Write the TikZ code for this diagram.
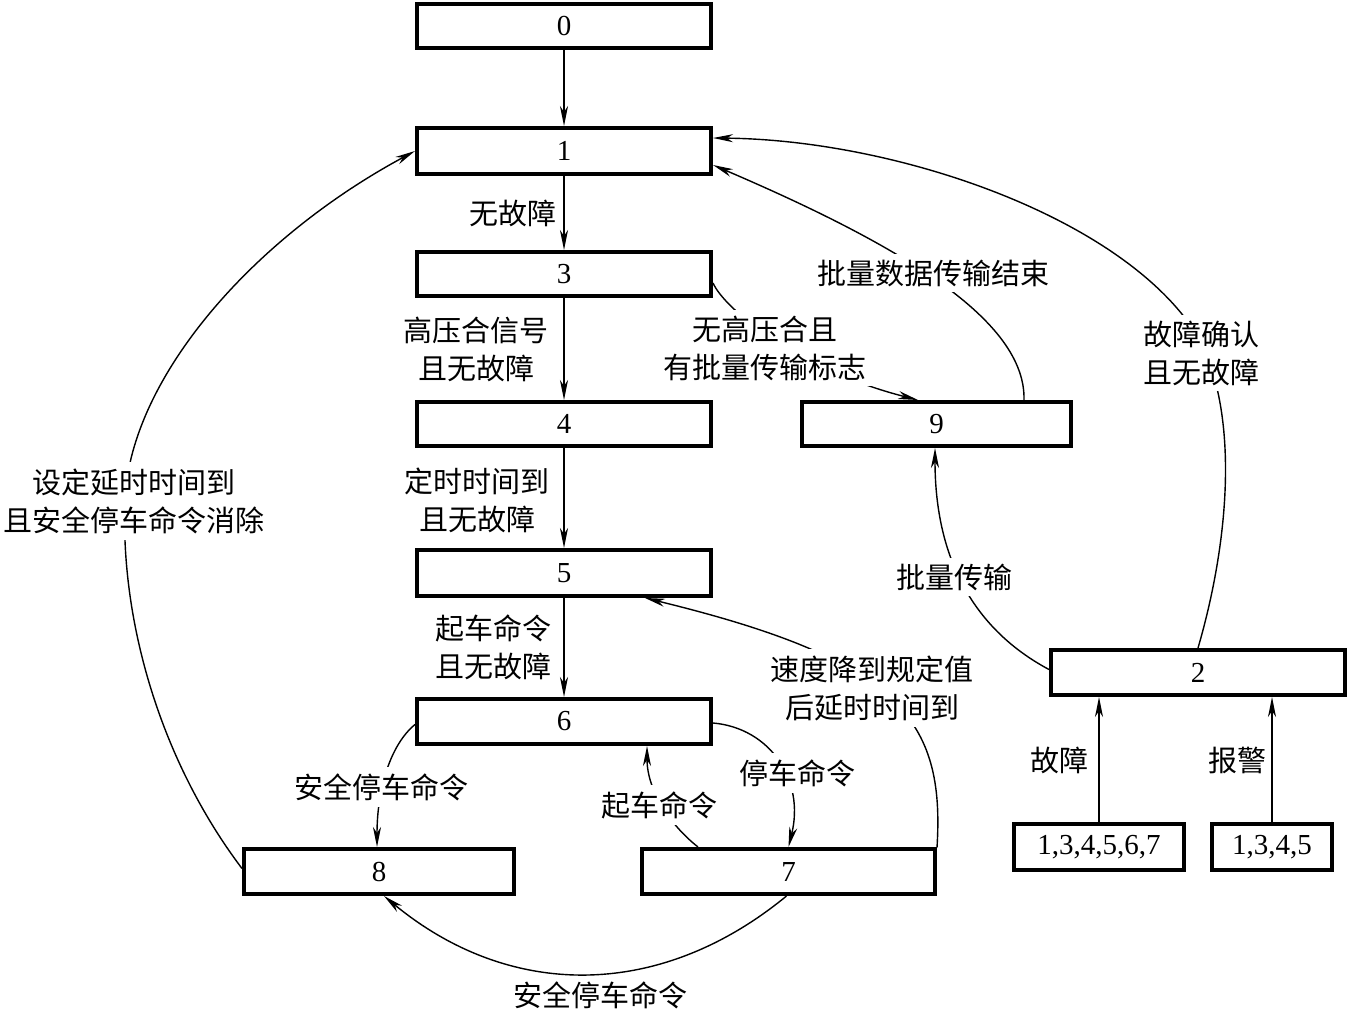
\documentclass[tikz,border=0pt]{standalone}
\usepackage{fontspec}
\setmainfont{Liberation Serif}
\newfontfamily\cjk{Noto Sans CJK SC}
\usetikzlibrary{arrows.meta,calc}
\begin{document}
\begin{tikzpicture}[x=0.5pt,y=-0.5pt,
  box/.style={draw,line width=2pt,inner sep=0pt,font=\fontsize{14.5}{17}\selectfont},
  lab/.style={font=\cjk\fontsize{14.5}{19}\selectfont,align=center,inner sep=1pt},
  gap/.style={lab,fill=white,inner sep=3pt},
  arr/.style={line width=0.7pt,-{Stealth[length=10pt,width=4pt,inset=3pt]}}]
\fill[white] (0,0) rectangle (1350,1011);
\useasboundingbox (0,0) rectangle (1350,1011);
% boxes
\node[box,minimum width=147pt,minimum height=22pt] (n0) at (564,26) {0};
\node[box,minimum width=147pt,minimum height=23pt] (n1) at (564,151) {1};
\node[box,minimum width=147pt,minimum height=22pt] (n3) at (564,274) {3};
\node[box,minimum width=147pt,minimum height=22pt] (n4) at (564,424) {4};
\node[box,minimum width=147pt,minimum height=23pt] (n5) at (564,573) {5};
\node[box,minimum width=147pt,minimum height=22.5pt] (n6) at (564,721.5) {6};
\node[box,minimum width=135pt,minimum height=22.5pt] (n8) at (379,871.5) {8};
\node[box,minimum width=146.5pt,minimum height=22.5pt] (n7) at (788.5,871.5) {7};
\node[box,minimum width=134.5pt,minimum height=22pt] (n9) at (936.5,424) {9};
\node[box,minimum width=147pt,minimum height=22.5pt] (n2) at (1198,672.5) {2};
\node[box,minimum width=85pt,minimum height=23pt] (f1) at (1099,847) {1,3,4,5,6,7};
\node[box,minimum width=60pt,minimum height=23pt] (f2) at (1272,847) {1,3,4,5};
% straight connectors
\draw[arr] (n0) -- (n1);
\draw[arr] (n1) -- (n3);
\draw[arr] (n3) -- (n4);
\draw[arr] (n4) -- (n5);
\draw[arr] (n5) -- (n6);
\draw[arr] (f1.north) -- (f1.north |- n2.south);
\draw[arr] (f2.north) -- (f2.north |- n2.south);
% curved connectors
\draw[arr] ($(n3.east)+(0,9)$) .. controls (725,310) and (800,370) .. ($(n9.north)+(-18.5,0)$);
\draw[arr] ($(n9.north)+(87.5,0)$) .. controls (1026,320) and (900,245) .. ($(n1.east)+(0,14)$);
\draw[arr] (n2.north) .. controls (1228,545) and (1240,420) .. (1200,340) .. controls (1130,220) and (900,140) .. ($(n1.east)+(0,-13)$);
\draw[arr] ($(n2.west)+(0,-3)$) .. controls (975,630) and (935,560) .. ($(n9.south)+(-1.5,0)$);
\draw[arr] ($(n7.east)+(0,-24)$) .. controls (945,720) and (900,660) .. ($(n5.south)+(81,0)$);
\draw[arr] ($(n6.east)+(0,1.5)$) .. controls (770,728) and (805,780) .. (n7.north);
\draw[arr] ($(n7.north west)+(58,0)$) .. controls (670,825) and (647,790) .. ($(n6.south)+(83,0)$);
\draw[arr] ($(n6.west)+(0,3)$) .. controls (390,745) and (377,790) .. ($(n8.north)+(-2,0)$);
\draw[arr] ($(n8.west)+(0,-3)$) .. controls (160,760) and (120,620) .. (125,500) .. controls (130,380) and (250,240) .. (n1.west);
\draw[arr] ($(n7.south)+(-2,0)$) .. controls (660,1000) and (510,1000) .. ($(n8.south)+(5,0)$);
% labels beside straight connectors
\node[lab] (t13) at (513,213) {无故障};
\node[lab] (t34) at (476,349) {高压合信号\\且无故障};
\node[lab] (t45) at (477,500) {定时时间到\\且无故障};
\node[lab] (t56) at (493,647) {起车命令\\且无故障};
\node[lab] (tf1) at (1059,760) {故障};
\node[lab] (tf2) at (1237,760) {报警};
\node[lab] (t78) at (600,995) {安全停车命令};
% labels breaking curved connectors
\node[gap] (t39) at (765,348) {无高压合且\\有批量传输标志};
\node[gap] (t91) at (933,273) {批量数据传输结束};
\node[gap] (t21) at (1201,353) {故障确认\\且无故障};
\node[gap] (t81) at (134,501) {设定延时时间到\\且安全停车命令消除};
\node[gap] (t29) at (954,577) {批量传输};
\node[gap] (t75) at (872,688) {速度降到规定值\\后延时时间到};
\node[gap] (t68) at (381,787) {安全停车命令};
\node[gap] (t67) at (797,773) {停车命令};
\node[gap] (t76) at (659,805) {起车命令};
\end{tikzpicture}
\end{document}
